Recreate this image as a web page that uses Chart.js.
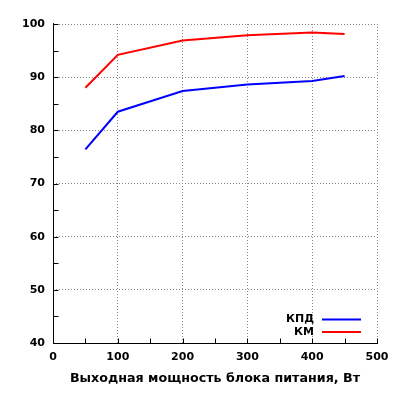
<!DOCTYPE html>
<html>
<head>
<meta charset="utf-8">
<script src="https://cdn.jsdelivr.net/npm/chart.js@4/dist/chart.umd.min.js"></script>
<style>
html,body{margin:0;padding:0;background:#fff;}
#wrap{width:400px;height:400px;}
</style>
</head>
<body>
<div id="wrap"><canvas id="c" width="400" height="400"></canvas></div>
<script>
const powerW = [50, 100, 200, 300, 400, 450];
const kpdValues = [76.4, 83.5, 87.4, 88.6, 89.3, 90.2];
const kmValues = [88.0, 94.2, 96.9, 97.9, 98.4, 98.1];
const seriesLabels = ['КПД', 'КМ'];
const xTitle = 'Выходная мощность блока питания, Вт';

const FONT = '"DejaVu Sans", Verdana, sans-serif';

const inwardTicks = {
  id: 'inwardTicks',
  afterDatasetsDraw(chart) {
    const ctx = chart.ctx, a = chart.chartArea;
    const xs = chart.scales.x, ys = chart.scales.y;
    ctx.save();
    ctx.setLineDash([]);
    ctx.strokeStyle = '#000';
    ctx.lineWidth = 1;
    ctx.beginPath();
    // axis lines (left and bottom)
    const lx = Math.round(a.left) + 0.5, by = Math.round(a.bottom) + 0.5;
    ctx.moveTo(lx, a.top - 1);
    ctx.lineTo(lx, by);
    ctx.lineTo(a.right + 1, by);
    for (let v = xs.min; v <= xs.max + 1e-9; v += 50) {
      const px = Math.round(xs.getPixelForValue(v)) + 0.5;
      ctx.moveTo(px, by);
      ctx.lineTo(px, by - 5);
    }
    for (let v = ys.min; v <= ys.max + 1e-9; v += 5) {
      const py = Math.round(ys.getPixelForValue(v)) + 0.5;
      ctx.moveTo(lx, py);
      ctx.lineTo(lx + 5, py);
    }
    ctx.stroke();
    // legend
    ctx.font = 'bold 11px ' + FONT;
    ctx.textAlign = 'right';
    ctx.textBaseline = 'middle';
    chart.data.datasets.forEach((ds, i) => {
      const y = a.bottom - 23.5 + i * 12.5;
      ctx.fillStyle = '#000';
      ctx.fillText(ds.label, a.right - 63, y);
      ctx.strokeStyle = ds.borderColor;
      ctx.lineWidth = 2;
      ctx.beginPath();
      ctx.moveTo(a.right - 55, y);
      ctx.lineTo(a.right - 16, y);
      ctx.stroke();
    });
    ctx.restore();
  }
};

new Chart(document.getElementById('c'), {
  type: 'line',
  data: {
    datasets: [
      { label: seriesLabels[0], data: powerW.map((x, i) => ({x, y: kpdValues[i]})), borderColor: '#0000ff', borderWidth: 2, pointRadius: 0, tension: 0, fill: false },
      { label: seriesLabels[1], data: powerW.map((x, i) => ({x, y: kmValues[i]})), borderColor: '#ff0000', borderWidth: 2, pointRadius: 0, tension: 0, fill: false }
    ]
  },
  options: {
    responsive: false,
    animation: false,
    devicePixelRatio: 1,
    layout: { padding: { top: 24, right: 23, left: 0, bottom: 0 } },
    plugins: { legend: { display: false }, tooltip: { enabled: false } },
    scales: {
      x: {
        type: 'linear', min: 0, max: 500,
        ticks: { stepSize: 100, color: '#000', font: { family: FONT, size: 11, weight: 'bold' }, padding: 8, maxRotation: 0 },
        grid: { color: '#888888', drawTicks: false, lineWidth: 1 },
        border: { display: false, dash: [1, 2] },
        title: { display: true, text: xTitle, color: '#000', font: { family: FONT, size: 12.7, weight: 'bold' }, padding: { top: 6, bottom: 14 } },
        afterFit(s) { s.height = 57; }
      },
      y: {
        min: 40, max: 100,
        ticks: { stepSize: 10, color: '#000', font: { family: FONT, size: 11, weight: 'bold' }, padding: 8 },
        grid: { color: '#888888', drawTicks: false, lineWidth: 1 },
        border: { display: false, dash: [1, 2] },
        afterFit(s) { s.width = 53; }
      }
    }
  },
  plugins: [inwardTicks]
});
</script>
</body>
</html>
